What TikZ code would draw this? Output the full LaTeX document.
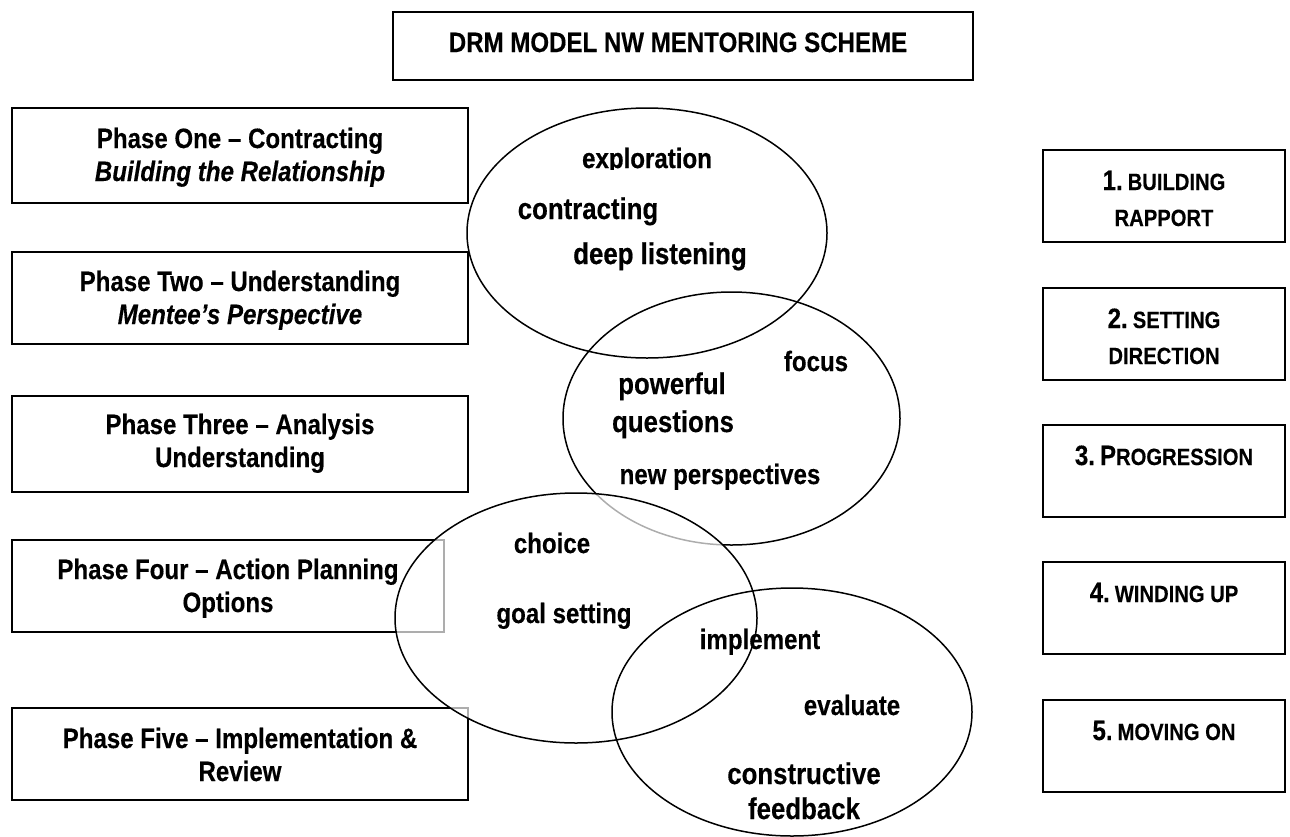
\documentclass[tikz,border=0pt]{standalone}
\usepackage{fontspec}
\setmainfont{Liberation Sans}[FakeStretch=0.86, BoldFeatures={FakeBold=0.3}, BoldItalicFeatures={FakeBold=0.3}]
\newfontfamily\heavy{Liberation Sans Bold}[FakeStretch=0.86, FakeBold=0.7]
\usetikzlibrary{shapes.geometric}
\begin{document}
\begin{tikzpicture}[x=1pt,y=-1pt,
  frame/.style={draw=black, line width=2pt, inner sep=0pt},
  ring/.style={draw=black, line width=1.5pt, ellipse, inner sep=0pt},
  lbl/.style={anchor=base, inner sep=0pt, font=\bfseries\fontsize{28}{32}\selectfont},
  big/.style={anchor=base, inner sep=0pt, font=\bfseries\fontsize{30}{34}\selectfont},
  sc/.style={font=\bfseries\fontsize{23.5}{27}\selectfont}]
\useasboundingbox (0,0) rectangle (1290,836);

% title
\node[frame, minimum width=580pt, minimum height=68pt] (title) at (683,46) {};

% left phase boxes
\node[frame, minimum width=456pt, minimum height=95pt] (p1) at (240,155.5) {};
\node[frame, minimum width=456pt, minimum height=92pt] (p2) at (240,298) {};
\node[frame, minimum width=456pt, minimum height=96pt] (p3) at (240,443.5) {};
\node[frame, minimum width=432pt, minimum height=92pt] (p4) at (228,586) {};
\node[frame, minimum width=456pt, minimum height=92pt] (p5) at (240,754) {};

% right stage boxes
\node[frame, minimum width=242pt, minimum height=92pt] (r1) at (1164,196) {};
\node[frame, minimum width=242pt, minimum height=92pt] (r2) at (1164,333.5) {};
\node[frame, minimum width=242pt, minimum height=92pt] (r3) at (1164,470.5) {};
\node[frame, minimum width=242pt, minimum height=92pt] (r4) at (1164,608) {};
\node[frame, minimum width=242pt, minimum height=92pt] (r5) at (1164,746) {};

% ellipses
\node[ring, minimum width=360pt, minimum height=250pt] (e1) at (647,233) {};
\node[ring, minimum width=337pt, minimum height=253pt] (e2) at (731.5,418.5) {};
\node[ring, fill=white, fill opacity=0.68, minimum width=362pt, minimum height=250pt] (e3) at (576,618) {};
\node[ring, minimum width=360pt, minimum height=248pt] (e4) at (792,712) {};

% title text
\node[lbl] (titletext) at (678,52) {DRM MODEL NW MENTORING SCHEME};

% phase texts
\node[lbl] (p1a) at (240,148) {Phase One – Contracting};
\node[lbl] (p1b) at (240,181) {\itshape Building the Relationship};
\node[lbl] (p2a) at (240,291) {Phase Two – Understanding};
\node[lbl] (p2b) at (240,324) {\itshape Mentee’s Perspective};
\node[lbl] (p3a) at (240,434) {Phase Three – Analysis};
\node[lbl] (p3b) at (240,467) {Understanding};
\node[lbl] (p4a) at (228,579) {Phase Four – Action Planning};
\node[lbl] (p4b) at (228,612) {Options};
\node[lbl] (p5a) at (240,748) {Phase Five – Implementation \&};
\node[lbl] (p5b) at (240,781) {Review};

% stage texts
\node[lbl] (r1a) at (1164,190) {1.\hspace{5pt}{\fontsize{23.5}{27}\selectfont BUILDING}};
\node[lbl, sc] (r1b) at (1164,226) {RAPPORT};
\node[lbl] (r2a) at (1164,328) {2.\hspace{5pt}{\fontsize{23.5}{27}\selectfont SETTING}};
\node[lbl, sc] (r2b) at (1164,364) {DIRECTION};
\node[lbl] (r3a) at (1164,465) {3.\hspace{5pt}P{\fontsize{23.5}{27}\selectfont ROGRESSION}};
\node[lbl] (r4a) at (1164,602) {4.\hspace{5pt}{\fontsize{23.5}{27}\selectfont WINDING UP}};
\node[lbl] (r5a) at (1164,740) {5.\hspace{5pt}{\fontsize{23.5}{27}\selectfont MOVING ON}};

% ellipse words
\begin{scope}
\clip (540,130) rectangle (760,169);
\node[lbl, font=\heavy\fontsize{28}{32}\selectfont] (w1) at (647,168) {exploration};
\end{scope}
\node[big] (w2) at (588,219) {contracting};
\node[big, font=\heavy\fontsize{30}{34}\selectfont] (w3) at (660,264) {deep listening};
\node[lbl] (w4) at (816,371) {focus};
\node[big] (w5) at (672,394) {powerful};
\node[big] (w6) at (673,432) {questions};
\node[lbl] (w7) at (720,484) {new perspectives};
\node[lbl] (w8) at (552,553) {choice};
\node[lbl] (w9) at (564,623) {goal setting};
\node[lbl] (w10) at (760,649) {implement};
\node[lbl] (w11) at (852,715) {evaluate};
\node[big] (w12) at (804,784) {constructive};
\node[big] (w13) at (804,819) {feedback};
\end{tikzpicture}
\end{document}
